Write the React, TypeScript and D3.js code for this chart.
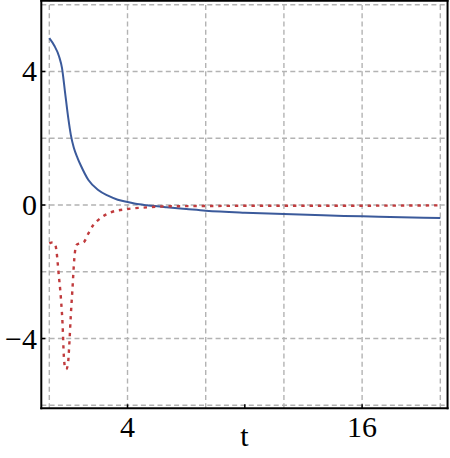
import React from "react";
import * as d3 from "d3";

// chart size
const W = 450;
const H = 458;

// series: t, value
const blueT = [0, 0.25, 0.5, 0.65, 0.8, 0.97, 1.1, 1.25, 1.45, 1.6, 2.0, 2.5, 3.0, 3.5, 4, 4.6, 5, 6, 7, 8, 10, 12, 14, 16, 18, 20];
const blueY = [5.0, 4.78, 4.45, 4.1, 3.4, 2.6, 2.1, 1.72, 1.4, 1.2, 0.75, 0.45, 0.28, 0.16, 0.09, 0.02, -0.01, -0.07, -0.12, -0.17, -0.23, -0.27, -0.31, -0.34, -0.37, -0.39];

const redT = [0, 0.17, 0.3, 0.4, 0.46, 0.6, 0.68, 0.74, 0.8, 0.86, 0.95, 1.02, 1.1, 1.18, 1.28, 1.38, 1.55, 1.75, 2.0, 2.25, 2.6, 3.1, 4, 5, 6, 8, 12, 16, 20];
const redY = [-1.15, -1.12, -1.18, -1.55, -1.95, -2.85, -3.6, -4.5, -4.85, -4.92, -4.78, -4.2, -3.3, -2.55, -1.6, -1.2, -1.15, -1.12, -0.85, -0.6, -0.4, -0.23, -0.12, -0.07, -0.04, -0.03, -0.02, -0.02, -0.01];

// gridlines and ticks
const xGrid = [0, 4, 8, 12, 16, 20];
const yGrid = [-6, -4, -2, 0, 2, 4, 6];
const xTicks = [4, 10, 16];
const xTickLabels = ["4", "", "16"];
const yTicks = [-4, 0, 4];
const yTickLabels = ["\u22124", "0", "4"];
const xTitle = "t";

const font = "Liberation Serif";

export default function App() {
  // plot range with Mathematica-like padding
  const xScale = d3.scaleLinear().domain([-0.41, 20.37]).range([41.3, 41.3 + 20.78 * 19.55]);
  const yScale = d3.scaleLinear().domain([-6.09, 6.12]).range([408.3, 408.3 - 12.21 * 33.38]);

  const [x0, x1] = xScale.range();
  const [yb, yt] = yScale.range();

  const line = d3.line<[number, number]>()
    .x((d) => xScale(d[0]))
    .y((d) => yScale(d[1]))
    .curve(d3.curveMonotoneX);

  const blue = blueT.map((t, i) => [t, blueY[i]] as [number, number]);
  const red = redT.map((t, i) => [t, redY[i]] as [number, number]);

  return (
    <svg width={W} height={H} style={{ position: "absolute", left: 0, top: 0, background: "#fff" }}>
      {/* grid */}
      <g stroke="#b3b3b3" strokeWidth={1.4} strokeDasharray="5,3.3">
        {xGrid.map((t) => (
          <line key={"gx" + t} x1={xScale(t)} x2={xScale(t)} y1={yb} y2={yt} />
        ))}
        {yGrid.map((v) => (
          <line key={"gy" + v} x1={x0} x2={x1} y1={yScale(v)} y2={yScale(v)} />
        ))}
      </g>

      {/* curves */}
      <path d={line(blue) || ""} fill="none" stroke="#3b5a9b" strokeWidth={2} />
      <path d={line(red) || ""} fill="none" stroke="#c03b3d" strokeWidth={2.4} strokeDasharray="3.4,4.9" />

      {/* frame */}
      <g stroke="#000" strokeWidth={2} fill="none">
        <line x1={x0} x2={x0} y1={yt - 1} y2={yb + 1} />
        <line x1={x0 - 1} x2={x1 + 1} y1={yb} y2={yb} />
        <line x1={x1} x2={x1} y1={yt - 1} y2={yb + 1} />
        <line x1={x0 - 1} x2={x1 + 1} y1={yt} y2={yt} />
      </g>

      {/* ticks */}
      <g stroke="#000" strokeWidth={1.5}>
        {xTicks.map((t) => (
          <line key={"tx" + t} x1={xScale(t)} x2={xScale(t)} y1={yb} y2={yb - 4} />
        ))}
        {yTicks.map((v) => (
          <line key={"ty" + v} x1={x0} x2={x0 + 4} y1={yScale(v)} y2={yScale(v)} />
        ))}
      </g>

      {/* tick labels */}
      <g style={{ fontFamily: font, fontSize: 30 }} fill="#000">
        {xTicks.map((t, i) => (
          <text key={"lx" + t} x={xScale(t)} y={436.5} textAnchor="middle">{xTickLabels[i]}</text>
        ))}
        {yTicks.map((v, i) => (
          <text key={"ly" + v} x={37} y={yScale(v) + 10} textAnchor="end">{yTickLabels[i]}</text>
        ))}
        <text x={(x0 + x1) / 2} y={446} textAnchor="middle">{xTitle}</text>
      </g>
    </svg>
  );
}
